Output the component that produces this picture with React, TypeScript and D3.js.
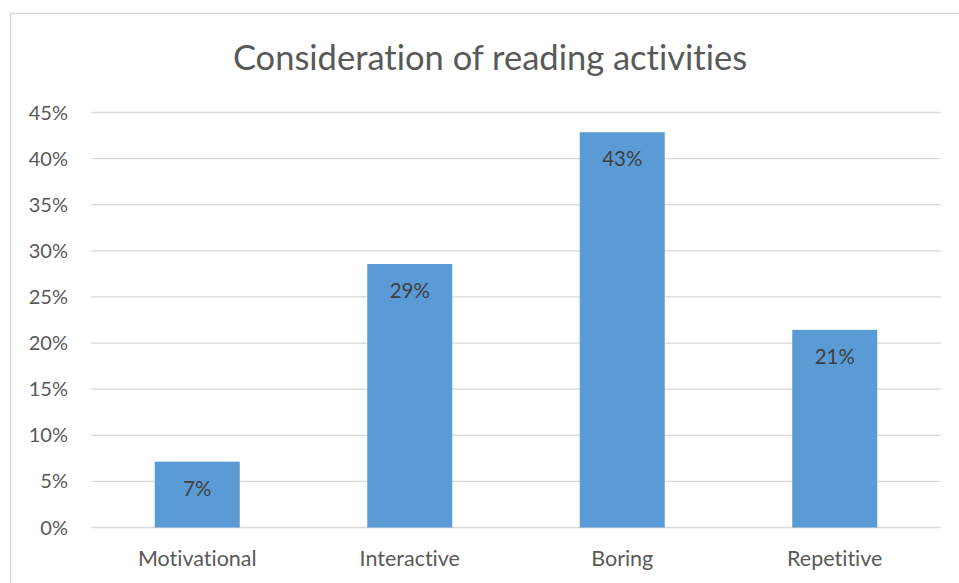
import React from "react";
import * as d3 from "d3";

const categories = ["Motivational", "Interactive", "Boring", "Repetitive"];
const values = [7.14, 28.57, 42.86, 21.43];
const yTicks = [0, 5, 10, 15, 20, 25, 30, 35, 40, 45];
const title = "Consideration of reading activities";

const W = 959;
const H = 583;
const plot = { left: 91, right: 941, top: 112.5, bottom: 527.5 };
const FONT = "Lato, 'Open Sans', sans-serif";
const TEXT = "#595959";
const noLig = { fontVariantLigatures: "none" as const };

export default function App() {
  const x = d3
    .scaleBand<string>()
    .domain(categories)
    .range([plot.left, plot.right])
    .paddingInner(0.6)
    .paddingOuter(0.3);
  const y = d3.scaleLinear().domain([0, 45]).range([plot.bottom, plot.top]);

  return (
    <svg
      width={W}
      height={H}
      style={{ position: "absolute", left: 0, top: 0, background: "#fff" }}
    >
      <rect x={10.5} y={13.5} width={960} height={600} fill="#fff" stroke="#d9d9d9" strokeWidth={1.5} />
      <text
        x={490}
        y={70}
        textAnchor="middle"
        fontFamily={FONT}
        fontSize={34.5}
        fill={TEXT}
        style={noLig}
      >
        {title}
      </text>
      {yTicks.map((t) => (
        <g key={t}>
          <line
            x1={plot.left}
            x2={plot.right}
            y1={y(t)}
            y2={y(t)}
            stroke="#d9d9d9"
            strokeWidth={1.3}
          />
          <text
            x={68}
            y={y(t) + 7}
            textAnchor="end"
            fontFamily={FONT}
            fontSize={20}
            fill={TEXT}
          >
            {t}%
          </text>
        </g>
      ))}
      {categories.map((c, i) => {
        const bx = x(c)!;
        const bw = x.bandwidth();
        const top = y(values[i]);
        return (
          <g key={c}>
            <rect x={bx} y={top} width={bw} height={y(0) - top} fill="#5b9bd5" />
            <text
              x={bx + bw / 2}
              y={top + 34}
              textAnchor="middle"
              fontFamily={FONT}
              fontSize={20.5}
              fill="#404040"
            >
              {Math.round(values[i])}%
            </text>
            <text
              x={bx + bw / 2}
              y={566}
              textAnchor="middle"
              fontFamily={FONT}
              fontSize={21.5}
              fill={TEXT}
              style={noLig}
            >
              {c}
            </text>
          </g>
        );
      })}
    </svg>
  );
}
